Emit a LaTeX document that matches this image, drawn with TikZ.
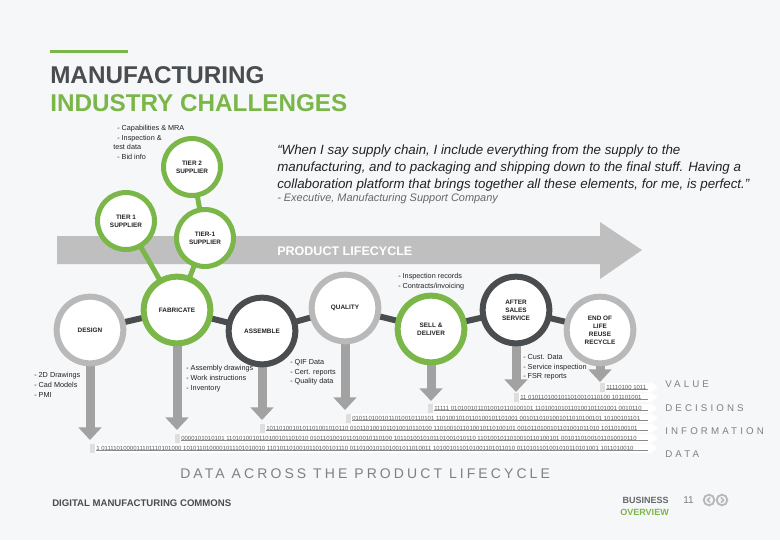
\documentclass[tikz,border=0pt]{standalone}
\usepackage{fontspec}
\setmainfont{Liberation Sans}
\newfontfamily\spacedA[LetterSpace=22]{Liberation Sans}
\newfontfamily\spacedB[LetterSpace=32]{Liberation Sans}
\usetikzlibrary{arrows.meta}
\definecolor{bgc}{RGB}{246,247,249}
\definecolor{grn}{RGB}{122,182,72}
\definecolor{dgr}{RGB}{74,77,80}
\definecolor{lgr}{RGB}{185,185,185}
\definecolor{bandc}{RGB}{191,191,191}
\definecolor{arrc}{RGB}{162,162,162}
\definecolor{txt}{RGB}{35,35,35}
\definecolor{labc}{RGB}{128,128,128}
\definecolor{bitc}{RGB}{90,90,90}
\definecolor{blk}{RGB}{222,222,222}
\pgfdeclarelayer{back}
\pgfdeclarelayer{mid}
\pgfsetlayers{back,mid,main}
\begin{document}
\begin{tikzpicture}[x=0.75pt,y=-0.75pt,
  ring/.style={circle, fill=white, inner sep=0pt, align=center, text=txt, font=\fontsize{4.8}{5.9}\selectfont\bfseries},
  tier/.style={ring, draw=grn, line width=3.75pt, minimum size=42.75pt},
  big/.style={ring, line width=4.5pt, minimum size=50pt},
  glink/.style={draw=grn, line width=3.75pt},
  dlink/.style={draw=dgr, line width=4.5pt},
  downarr/.style={draw=arrc, line width=6.75pt, -{Triangle[width=17pt,length=9.5pt]}},
  bul/.style={anchor=north west, inner sep=0pt, align=left, font=\fontsize{5.45}{7.3}\selectfont, text=txt},
  lab/.style={anchor=west, inner sep=0pt, font=\spacedB\fontsize{7.3}{9}\selectfont, text=labc},
  bits/.style={anchor=west, inner sep=0pt, font=\fontsize{4.5}{5}\selectfont, text=bitc}
]
\begin{pgfonlayer}{back}
\fill[bgc] (0,0) rectangle (780,540);
\fill[bandc] (57,236) -- (600,236) -- (600,222) -- (642,250) -- (600,279) -- (600,264) -- (57,264) -- cycle;
\end{pgfonlayer}
\useasboundingbox (0,0) rectangle (780,540);

% title
\draw[grn, line width=2.25pt] (50,51) -- (128,51);
\node[anchor=base west, inner sep=0pt, font=\fontsize{18.2}{20}\selectfont\bfseries, text=dgr] (ttlA) at (50,83) {MANUFACTURING};
\node[anchor=base west, inner sep=0pt, font=\fontsize{18.2}{20}\selectfont\bfseries, text=grn] (ttlB) at (50,111) {INDUSTRY CHALLENGES};

% quote
\node[anchor=north west, inner sep=0pt, align=left, font=\fontsize{10}{12.75}\selectfont\itshape, text=txt] (quote) at (277,145)
 {“When I say supply chain, I include everything from the supply to the\\manufacturing, and to packaging and shipping down to the final stuff. Having a\\collaboration platform that brings together all these elements, for me, is perfect.”};
\node[anchor=west, inner sep=0pt, font=\fontsize{8.2}{9}\selectfont\itshape, text=labc!80!black] (attr) at (277,199) {- Executive, Manufacturing Support Company};

\node[anchor=base west, inner sep=0pt, font=\fontsize{9.4}{11}\selectfont\bfseries, text=white] (plc) at (277,255) {PRODUCT LIFECYCLE};

% circles
\node[tier] (tiertwo) at (192,167) {TIER 2\\SUPPLIER};
\node[tier] (tierone) at (126,221) {TIER 1\\SUPPLIER};
\node[tier] (tieronb) at (205,238) {TIER-1\\SUPPLIER};
\node[big, draw=lgr] (design) at (90,330) {DESIGN};
\node[big, draw=grn] (fab) at (177,310) {FABRICATE};
\node[big, draw=dgr] (assemble) at (262,331) {ASSEMBLE};
\node[big, draw=lgr] (quality) at (345,308) {QUALITY};
\node[big, draw=grn] (sell) at (431,329) {SELL \&\\DELIVER};
\node[big, draw=dgr] (after) at (516,310) {AFTER\\SALES\\SERVICE};
\node[big, draw=lgr] (eol) at (600,330) {END OF\\LIFE\\REUSE\\RECYCLE};

\coordinate (tD) at (90,440);
\coordinate (tF) at (177,430);
\coordinate (tA) at (262,420);
\coordinate (tQ) at (345,410);
\coordinate (tS) at (431,401);
\coordinate (tR) at (516,392);
\coordinate (tE) at (600,382);

\begin{pgfonlayer}{mid}
\draw[glink] (tiertwo.center) -- (tieronb.center);
\draw[glink] (tierone.center) -- (fab.center);
\draw[glink] (tieronb.center) -- (fab.center);
\draw[dlink] (design.center) -- (fab.center);
\draw[dlink] (fab.center) -- (assemble.center);
\draw[dlink] (assemble.center) -- (quality.center);
\draw[dlink] (quality.center) -- (sell.center);
\draw[dlink] (sell.center) -- (after.center);
\draw[dlink] (after.center) -- (eol.center);
\draw[downarr] (design.center) -- (tD);
\draw[downarr] (fab.center) -- (tF);
\draw[downarr] (assemble.center) -- (tA);
\draw[downarr] (quality.center) -- (tQ);
\draw[downarr] (sell.center) -- (tS);
\draw[downarr] (after.center) -- (tR);
\draw[downarr] (eol.center) -- (tE);
\end{pgfonlayer}

% bullet lists
\node[bul] (capa) at (117,125) {- Capabilities \& MRA\\- Inspection \&};
\node[bul] (capb) at (113,144) {test data};
\node[bul] (capc) at (117,154) {- Bid info};
\node[bul] (bdes) at (34,372) {- 2D Drawings\\- Cad Models\\- PMI};
\node[bul] (bass) at (186,365) {- Assembly drawings\\- Work instructions\\- Inventory};
\node[bul] (bqua) at (290,359) {- QIF Data\\- Cert. reports\\- Quality data};
\node[bul] (bsel) at (398,273) {- Inspection records\\- Contracts/invoicing};
\node[bul] (baft) at (523,354) {- Cust. Data\\- Service inspection\\- FSR reports};

% data staircase
\foreach \xs/\yy in {90/448, 175/438, 260/428, 346/418, 428/408, 514/397, 600/387}{
  \fill[white] (\xs,\yy-4.5) rectangle (650,\yy+4.5);
  \fill[white] (650,\yy-5.5) -- (658,\yy) -- (650,\yy+5.5) -- cycle;
  \fill[blk] (\xs,\yy-4.5) rectangle (\xs+5,\yy+4.5);
  \draw[bitc!70, line width=0.3pt] (\xs+6,\yy+2.6) -- (648,\yy+2.6);
}
\node[bits] (rA) at (96,448) {1 0111101000011101110101000 1010110100001011101010010 1101011010010110100101110 0110100101101001011010011 1010010110101001101011010 0110101101001010110101001 1011010010};
\node[bits] (rB) at (181,438) {0000101010101 1101010010110100101101010 0101101001011010010110100 1011010010101101001010110 1101001011010010110100101 00101101001011010010110};
\node[bits] (rC) at (266,428) {1011010010101101001010110 0101101001011010010110100 1101001011010010110100101 0010110100101101001011010 10110100101};
\node[bits] (rD) at (352,418) {0101101001011010010110101 1101001010110100101101001 0010110101001011010100101 10100101101};
\node[bits] (rE) at (434,408) {11111 0101001011010010110100101 1101001010110100101101001 0010110};
\node[bits] (rF) at (520,397) {11 0101101001011010010110100 101101001};
\node[bits] (rG) at (606,387) {11110100 1011};

\node[lab] (lv) at (665,384) {VALUE};
\node[lab] (ld) at (665,408) {DECISIONS};
\node[lab] (li) at (665,431) {INFORMATION};
\node[lab] (lda) at (665,454) {DATA};

\node[anchor=west, inner sep=0pt, font=\spacedA\fontsize{10.5}{12}\selectfont, text=labc] (dacross) at (180,474) {DATA ACROSS THE PRODUCT LIFECYCLE};

% footer
\node[anchor=west, inner sep=0pt, font=\fontsize{7.2}{8}\selectfont\bfseries, text=dgr] (dmc) at (52,503) {DIGITAL MANUFACTURING COMMONS};
\node[anchor=east, inner sep=0pt, font=\fontsize{6.75}{8}\selectfont\bfseries, text=dgr!85] (bus) at (669,500) {BUSINESS};
\node[anchor=east, inner sep=0pt, font=\fontsize{6.75}{8}\selectfont\bfseries, text=grn] (ovw) at (669,512) {OVERVIEW};
\node[anchor=west, inner sep=0pt, font=\fontsize{7.5}{9}\selectfont, text=labc] (pg) at (683,500) {11};
\node[circle, draw=lgr, line width=1.4pt, minimum size=8pt, inner sep=0pt] (prev) at (709,500) {};
\node[circle, draw=lgr, line width=1.4pt, minimum size=8pt, inner sep=0pt] (next) at (722,500) {};
\draw[lgr, line width=1.2pt] ([xshift=0.8pt,yshift=2pt]prev.center) -- ([xshift=-1.2pt]prev.center) -- ([xshift=0.8pt,yshift=-2pt]prev.center);
\draw[lgr, line width=1.2pt] ([xshift=-0.8pt,yshift=2pt]next.center) -- ([xshift=1.2pt]next.center) -- ([xshift=-0.8pt,yshift=-2pt]next.center);
\end{tikzpicture}
\end{document}
